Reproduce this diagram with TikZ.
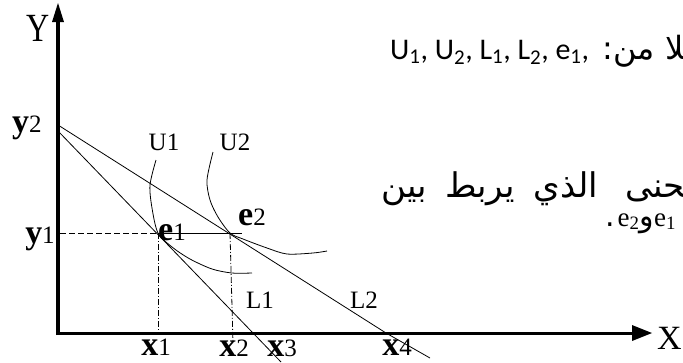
\documentclass[tikz,border=0pt]{standalone}
\usepackage{fontspec}
\setmainfont{Liberation Serif}
\newfontfamily\arabicfont[Script=Arabic]{DejaVu Sans}
\newfontfamily\carlito{Carlito}
\TeXXeTstate=1
\usetikzlibrary{arrows.meta}
\newcommand{\lbl}[2]{{\fontsize{34}{36}\selectfont\bfseries #1}{\fontsize{25}{27}\selectfont #2}}
\newcommand{\mlbl}[2]{{\fontsize{25}{27}\selectfont #1#2}}
\begin{document}
\begin{tikzpicture}[x=1pt,y=-1pt,
  thinl/.style={line width=0.8pt},
  axis/.style={line width=3.5pt},
  lab/.style={inner sep=0pt},
  txt/.style={inner sep=0pt, anchor=base west},
  arw/.style={inner sep=0pt, font=\fontsize{34}{38}\selectfont\arabicfont}]
\useasboundingbox (0,0) rectangle (683,362);
\clip (0,0) rectangle (683,362);
% coordinates
\coordinate (O) at (58,333);
\coordinate (YT) at (58,3);
\coordinate (XT) at (652,333);
\coordinate (Y2) at (58,125);
\coordinate (Y2b) at (58,131);
\coordinate (X3) at (253,333);
\coordinate (X4) at (386,333);
\coordinate (L1end) at (281,362);
\coordinate (L2end) at (430,358);
\coordinate (E1) at (158,233);
\coordinate (E2) at (230,233);
\coordinate (Y1) at (60,233);
\coordinate (X1) at (158,333);
\coordinate (X2) at (233,343);
\coordinate (H2) at (242,233);
% axes
\draw[axis] (58,335) -- (YT |- 0,20);
\fill (YT) -- (52,22) -- (64,22) -- cycle;
\draw[line width=3pt] (56,333) -- (634,333);
\fill (XT) -- (632,325) -- (632,341) -- cycle;
% budget lines
\draw[thinl] (Y2) -- (X4) -- (L2end);
\draw[thinl] (Y2b) -- (X3) -- (L1end);
% indifference curves
\draw[thinl] plot[smooth] coordinates {(156,160) (150,185) (152,208) (158,233) (172,247) (190,259) (212,269) (232,273) (252,273)};
\draw[thinl] plot[smooth] coordinates {(213,152) (207,180) (210,200) (218,217) (230,233) (243,239) (267,248) (287,254) (313,253) (327,251)};
% guide lines
\draw[thinl, dash pattern=on 6pt off 3pt] (Y1) -- (E1);
\draw[thinl] (E1) -- (H2);
\draw[thinl, dash pattern=on 6pt off 2pt on 1pt off 2pt] (E1) -- (X1);
\draw[thinl, dash pattern=on 6pt off 2pt on 1pt off 2pt] (E2) -- (X2);
% labels
\node[lab] (ly) at (38,28) {\fontsize{32}{34}\selectfont\scalebox{1}[1.25]{Y}};
\node[lab, anchor=west] (lx) at (657,338) {\fontsize{34}{36}\selectfont X};
\node[lab, anchor=base] (ly2) at (27,132) {\lbl{y}{2}};
\node[lab, anchor=base] (ly1) at (40,243) {\lbl{y}{1}};
\node[lab, anchor=base] (lu1) at (164,150) {\mlbl{U}{1}};
\node[lab, anchor=base] (lu2) at (235,150) {\mlbl{U}{2}};
\node[lab, anchor=base] (le1) at (172,240) {\lbl{e}{1}};
\node[lab, anchor=base] (le2) at (252,225) {\lbl{e}{2}};
\node[lab, anchor=base] (ll1) at (260,308) {\mlbl{L}{1}};
\node[lab, anchor=base] (ll2) at (364,308) {\mlbl{L}{2}};
\node[lab, anchor=base] (lx1) at (156,355) {\lbl{x}{1}};
\node[lab, anchor=base] (lx2) at (234,356) {\lbl{x}{2}};
\node[lab, anchor=base] (lx3) at (282,356) {\lbl{x}{3}};
\node[lab, anchor=base] (lx4) at (397,355) {\lbl{x}{4}};
% Arabic text
\node[txt] (t1) at (390,59) {\fontsize{32}{36}\selectfont\arabicfont\beginR كلا من: \beginL{\fontsize{30}{34}\selectfont\carlito U\textsubscript{1}, U\textsubscript{2}, L\textsubscript{1}, L\textsubscript{2}, e\textsubscript{1},}\endL\endR};
\node[arw, anchor=base west] (w4) at (625,197) {\beginR المنحنى\endR};
\node[arw, anchor=base] (w3) at (566,197) {\beginR الذي\endR};
\node[arw, anchor=base] (w2) at (480,197) {\beginR يربط\endR};
\node[arw, anchor=base] (w1) at (404,197) {\beginR بين\endR};
\node[txt] (t3) at (605,226) {\fontsize{30}{34}\selectfont\arabicfont\beginR\beginL{\fontsize{27}{30}\rmfamily e\textsubscript{1}}\endL و\beginL{\fontsize{27}{30}\rmfamily e\textsubscript{2}}\endL\kern3pt.\endR};
\end{tikzpicture}
\end{document}
